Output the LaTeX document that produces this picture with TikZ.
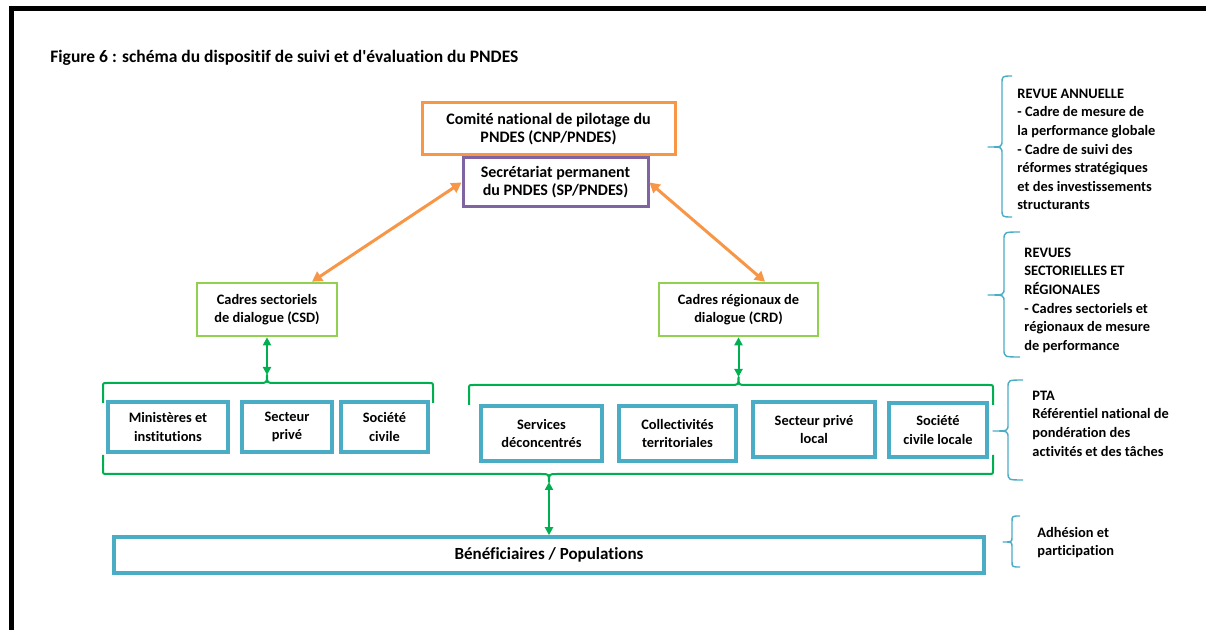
\documentclass[tikz,border=0pt]{standalone}
\usepackage{fontspec}
\setmainfont{Carlito}[Ligatures={TeXOff,NoCommon}]
\usetikzlibrary{arrows.meta}
\definecolor{corange}{HTML}{F79646}
\definecolor{cpurple}{HTML}{8064A2}
\definecolor{clgreen}{HTML}{92D050}
\definecolor{cblue}{HTML}{4BACC6}
\definecolor{cgreen}{HTML}{00B050}
\tikzset{
  txt/.style={font=\bfseries\fontsize{7.2}{9.3}\selectfont, align=center, inner sep=0pt},
  bigtxt/.style={font=\bfseries\fontsize{8}{9.1}\selectfont},
  note/.style={txt, align=left, anchor=north west},
  box/.style={txt, draw, fill=white},
  cnpbox/.style={box, bigtxt, draw=corange, line width=1.5pt},
  spbox/.style={box, bigtxt, draw=cpurple, line width=1.5pt},
  cadrebox/.style={box, draw=clgreen, line width=1.3pt},
  actbox/.style={box, draw=cblue, line width=1.8pt},
  oarrow/.style={draw=corange, line width=1.5pt, {Triangle[length=5pt,width=5.5pt]}-{Triangle[length=5pt,width=5.5pt]}},
  garrow/.style={draw=cgreen, line width=1pt, {Triangle[length=4pt,width=4pt]}-{Triangle[length=4pt,width=4pt]}},
  gbrace/.style={draw=cgreen, line width=1pt, line join=round},
  bbrace/.style={draw=cblue, line width=0.7pt, line join=round},
}
\begin{document}
\begin{tikzpicture}[x=0.5pt,y=-0.5pt]
\useasboundingbox (0,0) rectangle (1206,630);
% frame
\draw[line width=2.5pt] (1206,9) -- (11,9) -- (11,630);
% title
\node[txt, anchor=west, font=\bfseries\fontsize{8.75}{10}\selectfont] (title) at (50,58) {Figure 6 : schéma du dispositif de suivi et d'évaluation du PNDES};

% top boxes
\node[cnpbox, minimum width=126.5pt, minimum height=26pt] (cnp) at (548.5,129) {Comité national de pilotage du\\PNDES (CNP/PNDES)};
\node[spbox, minimum width=92.5pt, minimum height=24.5pt] (sp) at (555.5,182.5) {Secrétariat permanent\\du PNDES (SP/PNDES)};

\node[cadrebox, minimum width=70pt, minimum height=26.5pt] (csd) at (267,309.5) {Cadres sectoriels\\de dialogue (CSD)};
\node[cadrebox, minimum width=79.5pt, minimum height=26.5pt] (crd) at (738.5,309.5) {Cadres régionaux de\\dialogue (CRD)};

\draw[oarrow] (sp.west) -- ([xshift=22.5pt]csd.north);
\draw[oarrow] (sp.east) -- ([xshift=13.25pt]crd.north);

% actor boxes
\node[actbox, minimum width=60pt, minimum height=25pt] (min) at (168,427) {Ministères et\\institutions};
\node[actbox, minimum width=45pt, minimum height=25pt] (spriv) at (287,427) {Secteur\\privé};
\node[actbox, minimum width=43.5pt, minimum height=25pt] (sciv) at (384.5,427) {Société\\civile};

\node[actbox, minimum width=60.5pt, minimum height=27.5pt] (serv) at (541.5,433.5) {Services\\déconcentrés};
\node[actbox, minimum width=58.5pt, minimum height=27.5pt] (coll) at (677.5,433.5) {Collectivités\\territoriales};
\node[actbox, minimum width=61pt, minimum height=27.5pt] (sprivl) at (814,429.5) {Secteur privé\\local};
\node[actbox, minimum width=49pt, minimum height=27pt] (scivl) at (938,430) {Société\\civile locale};

\node[actbox, font=\bfseries\fontsize{8.5}{10}\selectfont, minimum width=435pt, minimum height=18pt] (benef) at (549,555) {Bénéficiaires / Populations};

% green braces
\coordinate (lcusp) at (267,375);
\coordinate (rcusp) at (738.5,377);
\coordinate (bcusp) at (549,482);
\draw[gbrace] (103,403) -- (103,387) .. controls (103,383) .. (107,383) -- (259,383) .. controls (267,383) .. (lcusp) .. controls (267,383) .. (275,383) -- (429,383) .. controls (433,383) .. (433,387) -- (433,403);
\draw[gbrace] (469,405) -- (469,389) .. controls (469,385) .. (473,385) -- (730.5,385) .. controls (738.5,385) .. (rcusp) .. controls (738.5,385) .. (746.5,385) -- (989,385) .. controls (993,385) .. (993,389) -- (993,405);
\draw[gbrace] (103,455) -- (103,470) .. controls (103,474) .. (107,474) -- (541,474) .. controls (549,474) .. (bcusp) .. controls (549,474) .. (557,474) -- (989,474) .. controls (993,474) .. (993,470) -- (993,455);

\draw[garrow] (csd.south) -- (lcusp);
\draw[garrow] (crd.south) -- (rcusp);
\draw[garrow] (bcusp) -- (benef.north);

% blue braces on the right
\draw[bbrace] (1012,76) .. controls (1002,76) .. (1002,84) -- (1002,140) .. controls (1002,147) .. (988,147) .. controls (1002,147) .. (1002,154) -- (1002,209) .. controls (1002,217) .. (1012,217);
\draw[bbrace] (1020,232) .. controls (1004,232) .. (1004,240) -- (1004,288) .. controls (1004,295) .. (988,295) .. controls (1004,295) .. (1004,302) -- (1004,349) .. controls (1004,357) .. (1020,357);
\draw[bbrace] (1023,380) .. controls (1008,380) .. (1008,388) -- (1008,424) .. controls (1008,431) .. (993,431) .. controls (1008,431) .. (1008,438) -- (1008,472) .. controls (1008,480) .. (1023,480);
\draw[bbrace] (1020,516) .. controls (1012,516) .. (1012,522) -- (1012,537) .. controls (1012,542) .. (1003,542) .. controls (1012,542) .. (1012,547) -- (1012,561) .. controls (1012,567) .. (1020,567);

% right notes
\node[note] (n1) at (1017,88.5) {REVUE ANNUELLE\\- Cadre de mesure de\\la performance globale\\- Cadre de suivi des\\réformes stratégiques\\et des investissements\\structurants};
\node[note] (n2) at (1024,247.5) {REVUES\\SECTORIELLES ET\\RÉGIONALES\\- Cadres sectoriels et\\régionaux de mesure\\de performance};
\node[note] (n3) at (1032,390.5) {PTA\\Référentiel national de\\pondération des\\activités et des tâches};
\node[note] (n4) at (1037,526.5) {Adhésion et\\participation};
\end{tikzpicture}
\end{document}
